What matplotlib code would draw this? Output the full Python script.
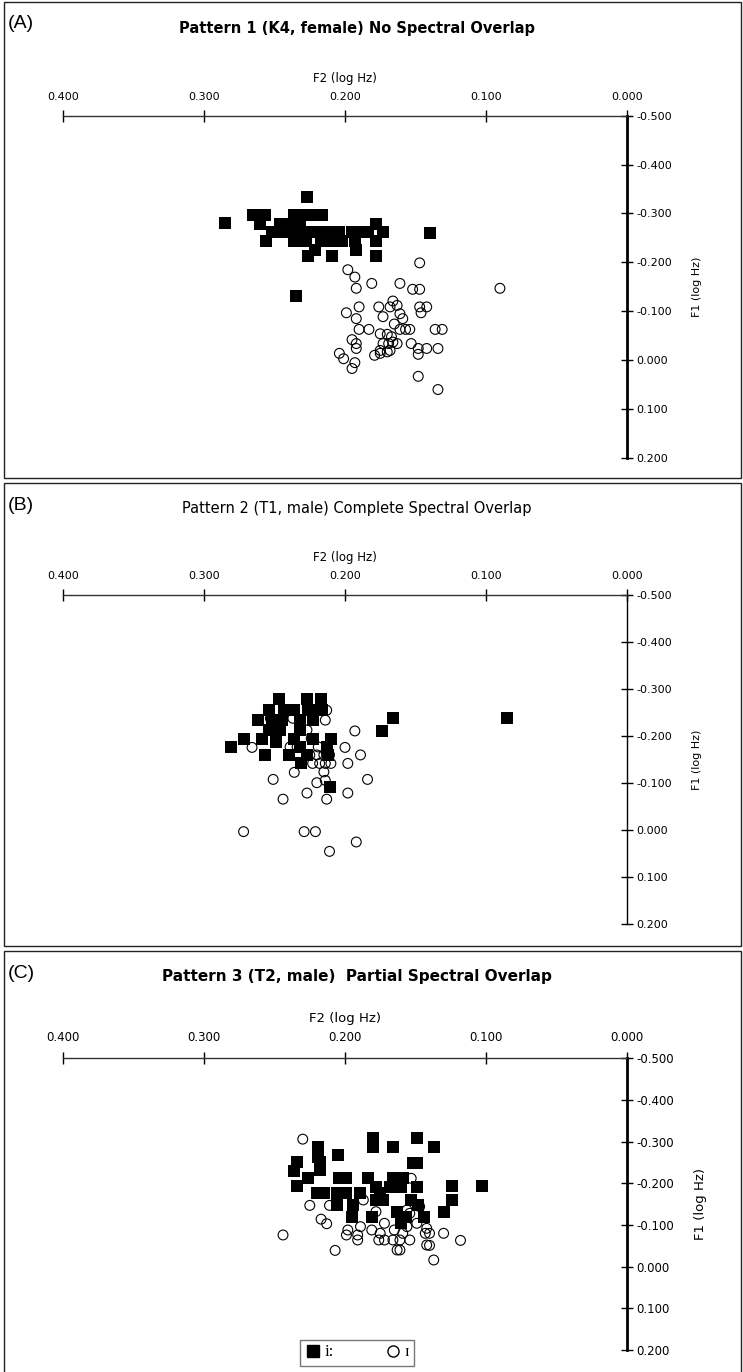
import matplotlib
matplotlib.use("Agg")
import matplotlib.pyplot as plt
from matplotlib.patches import Rectangle
from matplotlib.lines import Line2D
from matplotlib.ticker import FormatStrFormatter

plt.rcParams['axes.unicode_minus'] = False
plt.rcParams['font.family'] = ['DejaVu Sans']

# ---- data (F2, F1 in log Hz) ----
# panel A  (K4, female)
a_sq_x = [0.285, 0.227, 0.235, 0.140,
          0.265, 0.257, 0.236, 0.230, 0.222, 0.216,
          0.260, 0.246, 0.239, 0.232, 0.178,
          0.252, 0.245, 0.238, 0.231, 0.224, 0.217, 0.210, 0.204, 0.195, 0.191, 0.184, 0.173,
          0.256, 0.236, 0.228, 0.217, 0.210, 0.202, 0.193, 0.178,
          0.221, 0.192,
          0.226, 0.209, 0.178]
a_sq_y = [-0.280, -0.333, -0.131, -0.260,
          -0.296, -0.296, -0.296, -0.296, -0.296, -0.296,
          -0.279, -0.279, -0.279, -0.279, -0.279,
          -0.262, -0.262, -0.262, -0.262, -0.262, -0.262, -0.262, -0.262, -0.262, -0.262, -0.262, -0.262,
          -0.244, -0.244, -0.244, -0.244, -0.244, -0.244, -0.244, -0.244,
          -0.226, -0.226,
          -0.213, -0.213, -0.213]
a_ci_x = [0.147, 0.198, 0.193, 0.181, 0.161, 0.192, 0.152, 0.147, 0.090, 0.166,
          0.190, 0.176, 0.168, 0.163, 0.147, 0.142, 0.199, 0.192, 0.173, 0.161,
          0.159, 0.146, 0.165, 0.190, 0.183, 0.175, 0.161, 0.157, 0.154, 0.136,
          0.131, 0.195, 0.192, 0.192, 0.170, 0.167, 0.166, 0.169, 0.173, 0.163,
          0.153, 0.148, 0.142, 0.134, 0.175, 0.179, 0.168, 0.204, 0.201, 0.193,
          0.195, 0.175, 0.148, 0.148, 0.134, 0.170]
a_ci_y = [-0.199, -0.185, -0.170, -0.157, -0.157, -0.147, -0.145, -0.145, -0.147, -0.121,
          -0.109, -0.109, -0.109, -0.112, -0.109, -0.109, -0.097, -0.085, -0.089, -0.095,
          -0.085, -0.097, -0.074, -0.063, -0.063, -0.054, -0.063, -0.063, -0.063, -0.063,
          -0.063, -0.042, -0.034, -0.024, -0.053, -0.048, -0.037, -0.034, -0.034, -0.034,
          -0.034, -0.024, -0.024, -0.024, -0.020, -0.010, -0.020, -0.014, -0.003, 0.005,
          0.017, -0.014, -0.012, 0.033, 0.060, -0.017]

# panel B  (T1, male)
b_sq_x = [0.247, 0.227, 0.217,
          0.254, 0.243, 0.236, 0.226, 0.219, 0.216,
          0.262, 0.252, 0.245, 0.232, 0.223,
          0.166, 0.174, 0.085,
          0.254, 0.246, 0.232,
          0.272, 0.259, 0.249, 0.236, 0.223, 0.210,
          0.281, 0.232, 0.213,
          0.257, 0.240, 0.227, 0.212,
          0.231, 0.211]
b_sq_y = [-0.278, -0.278, -0.278,
          -0.255, -0.255, -0.255, -0.255, -0.255, -0.255,
          -0.234, -0.234, -0.234, -0.234, -0.234,
          -0.238, -0.211, -0.238,
          -0.213, -0.213, -0.213,
          -0.193, -0.193, -0.188, -0.193, -0.193, -0.193,
          -0.177, -0.177, -0.177,
          -0.160, -0.160, -0.160, -0.160,
          -0.142, -0.092]
b_ci_x = [0.253, 0.237, 0.214, 0.213, 0.232, 0.232, 0.227, 0.193, 0.266, 0.224,
          0.234, 0.219, 0.213, 0.200, 0.189, 0.225, 0.220, 0.215, 0.211, 0.223,
          0.218, 0.214, 0.210, 0.198, 0.236, 0.215, 0.251, 0.220, 0.214, 0.184,
          0.227, 0.198, 0.244, 0.213, 0.239,
          0.272, 0.229, 0.221, 0.211, 0.192]
b_ci_y = [-0.238, -0.238, -0.234, -0.255, -0.223, -0.213, -0.213, -0.211, -0.176, -0.195,
          -0.177, -0.177, -0.177, -0.176, -0.160, -0.160, -0.160, -0.160, -0.160, -0.142,
          -0.142, -0.142, -0.142, -0.142, -0.123, -0.124, -0.108, -0.101, -0.106, -0.108,
          -0.079, -0.079, -0.066, -0.066, -0.177,
          0.003, 0.003, 0.003, 0.045, 0.025]

# panel C  (T2, male)
c_sq_x = [0.180, 0.180, 0.166, 0.149, 0.137, 0.219, 0.219, 0.205, 0.234, 0.218,
          0.236, 0.152, 0.149, 0.226, 0.218, 0.204, 0.199, 0.184, 0.166, 0.159,
          0.149, 0.234, 0.220, 0.215, 0.206, 0.199, 0.189, 0.178, 0.175, 0.168,
          0.160, 0.124, 0.103, 0.124, 0.206, 0.194, 0.178, 0.173, 0.153, 0.148,
          0.130, 0.163, 0.195, 0.181, 0.144, 0.160, 0.157]
c_sq_y = [-0.308, -0.287, -0.287, -0.308, -0.287, -0.287, -0.264, -0.268, -0.250, -0.250,
          -0.230, -0.248, -0.248, -0.212, -0.232, -0.212, -0.212, -0.212, -0.212, -0.212,
          -0.192, -0.194, -0.176, -0.176, -0.176, -0.176, -0.176, -0.192, -0.176, -0.192,
          -0.192, -0.194, -0.194, -0.160, -0.148, -0.148, -0.160, -0.160, -0.160, -0.148,
          -0.132, -0.132, -0.119, -0.119, -0.119, -0.104, -0.120]
c_ci_x = [0.230, 0.225, 0.211, 0.217, 0.213, 0.244, 0.207, 0.198, 0.199, 0.191,
          0.191, 0.189, 0.181, 0.175, 0.176, 0.172, 0.172, 0.165, 0.166, 0.161,
          0.161, 0.159, 0.154, 0.156, 0.149, 0.142, 0.143, 0.140, 0.142, 0.140,
          0.130, 0.118, 0.137, 0.153, 0.156, 0.154, 0.147, 0.187, 0.178, 0.163]
c_ci_y = [-0.306, -0.147, -0.147, -0.114, -0.103, -0.076, -0.039, -0.088, -0.076, -0.076,
          -0.064, -0.096, -0.088, -0.080, -0.064, -0.064, -0.104, -0.088, -0.064, -0.064,
          -0.040, -0.080, -0.064, -0.096, -0.104, -0.092, -0.080, -0.080, -0.052, -0.051,
          -0.080, -0.063, -0.016, -0.212, -0.136, -0.128, -0.144, -0.160, -0.132, -0.040]

x_ticks = [0.4, 0.3, 0.2, 0.1, 0.0]
y_ticks = [-0.5, -0.4, -0.3, -0.2, -0.1, 0.0, 0.1, 0.2]

panel_letters = ["(A)", "(B)", "(C)"]
titles = ["Pattern 1 (K4, female) No Spectral Overlap",
          "Pattern 2 (T1, male) Complete Spectral Overlap",
          "Pattern 3 (T2, male)  Partial Spectral Overlap"]

W, H = 743, 1372
fig = plt.figure(figsize=(W / 100, H / 100), dpi=100)


def fy(py):
    return 1 - py / H


# pixel layout: frame top, frame bottom, axis top(-0.5), axis bottom(0.2)
frames = [(2, 478), (483, 946), (951, 1380)]
axes_px = [(115.7, 458), (595, 924.3), (1058.3, 1350)]
title_style = [dict(fontsize=10.5, fontweight='bold'),
               dict(fontsize=10.5, fontweight='normal'),
               dict(fontsize=11, fontweight='bold')]
yaxis_lw = [2.0, 1.0, 2.0]
tick_size = [8, 8, 8.5]

data = [(a_sq_x, a_sq_y, a_ci_x, a_ci_y),
        (b_sq_x, b_sq_y, b_ci_x, b_ci_y),
        (c_sq_x, c_sq_y, c_ci_x, c_ci_y)]

for i in range(3):
    ft, fb = frames[i]
    fig.patches.append(Rectangle((4 / W, fy(fb)), (W - 6) / W, (fb - ft) / H,
                                 transform=fig.transFigure, fill=False,
                                 edgecolor='#222222', linewidth=1.0))
    top, bot = axes_px[i]
    ax = fig.add_axes([63.3 / W, fy(bot), (626.7 - 63.3) / W, (bot - top) / H])
    ax.set_xlim(0.4, 0.0)
    ax.set_ylim(0.2, -0.5)
    ax.patch.set_visible(False)
    ax.spines['left'].set_visible(False)
    ax.spines['bottom'].set_visible(False)
    ax.spines['top'].set_linewidth(1.0)
    ax.spines['top'].set_color('#333333')
    ax.spines['right'].set_linewidth(yaxis_lw[i])
    ax.xaxis.tick_top()
    ax.yaxis.tick_right()
    ax.set_xticks(x_ticks)
    ax.set_yticks(y_ticks)
    ax.xaxis.set_major_formatter(FormatStrFormatter('%.3f'))
    ax.yaxis.set_major_formatter(FormatStrFormatter('%.3f'))
    ax.tick_params(axis='x', direction='inout', length=8, width=1,
                   labelsize=tick_size[i], pad=6)
    ax.tick_params(axis='y', direction='inout', length=8, width=1,
                   labelsize=tick_size[i], pad=3)
    ax.xaxis.set_label_position('top')
    ax.yaxis.set_label_position('right')
    ax.set_xlabel('F2 (log Hz)', fontsize=8.5 if i < 2 else 9.5, labelpad=7)
    ax.set_ylabel('F1 (log Hz)', fontsize=8 if i < 2 else 9.5, labelpad=14)

    sx, sy, cx, cy = data[i]
    ax.scatter(sx, sy, marker='s', s=72, color='black', linewidths=0, zorder=3)
    ax.scatter(cx, cy, marker='o', s=50, facecolors='none', edgecolors='black',
               linewidths=0.8, zorder=4)

    fig.text(8 / W, fy(ft + 22), panel_letters[i], fontsize=14,
             family='Liberation Sans', va='center', ha='left')
    fig.text(357 / W, fy(ft + 26), titles[i], ha='center', va='center',
             **title_style[i])

    if i == 2:
        handles = [Line2D([], [], marker='s', linestyle='none', color='black',
                          markersize=9),
                   Line2D([], [], marker='o', linestyle='none', markerfacecolor='none',
                          markeredgecolor='black', markersize=8)]
        leg = fig.legend(handles, ['i:', '\u026a'], ncol=2, loc='center',
                         bbox_to_anchor=(357 / W, fy(1352.5)),
                         frameon=True, fancybox=False, edgecolor='#555555',
                         prop={'family': ['Liberation Serif', 'DejaVu Serif'], 'size': 12},
                         handletextpad=0.2, columnspacing=3.0, borderpad=0.3,
                         handlelength=1.0)
        leg.get_frame().set_linewidth(1.0)

fig.savefig('out.png', dpi=100)
